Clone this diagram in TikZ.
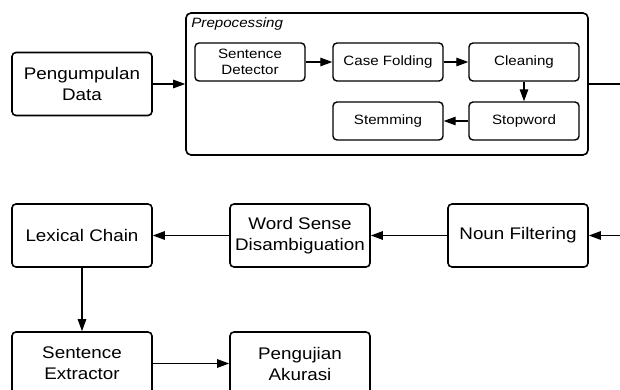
\documentclass[tikz,border=0pt]{standalone}
\usepackage{fontspec}
\setmainfont{Liberation Sans}[FakeStretch=1.12]
\usetikzlibrary{arrows.meta}

\tikzset{
    blok/.style={draw, line width=1.6pt, rounded corners=4pt, align=center,
        minimum width=140pt, minimum height=63pt, inner sep=0pt,
        font=\fontsize{16.8}{21}\selectfont},
    kecil/.style={draw, line width=1.4pt, rounded corners=4pt, align=center,
        minimum width=110pt, minimum height=38pt, inner sep=0pt,
        font=\fontsize{13.5}{16}\selectfont},
    panah/.style={line width=1.3pt, -{Triangle[length=12pt,width=8.5pt]}}
}

\begin{document}
\begin{tikzpicture}[x=1pt,y=-1pt]
                \useasboundingbox (0,0) rectangle (620,390);
                \clip (0,0) rectangle (620,390);
                \node[blok] (pengumpulan) at (82,84) {Pengumpulan\\Data};
                \node[draw, line width=1.6pt, rounded corners=5pt,
                    minimum width=402pt, minimum height=142pt] (prepro) at (387,84) {};
                \node[anchor=north west, inner sep=0pt,
                    font=\fontsize{13.5}{16}\selectfont\itshape]
                    (judul) at ([shift={(6pt,-5pt)}]prepro.north west) {Prepocessing};
                \node[kecil] (detector) at (250,62) {Sentence\\Detector};
                \node[kecil] (casefold) at (388,62) {Case Folding};
                \node[kecil] (cleaning) at (524,62) {Cleaning};
                \node[kecil] (stopword) at (524,121) {Stopword};
                \node[kecil] (stemming) at (388,121) {Stemming};
                \node[blok] (noun) at (518,235.5) {Noun Filtering};
                \node[blok] (wsd) at (300,235.5) {Word Sense\\Disambiguation};
                \node[blok] (lexical) at (82,235.5) {Lexical Chain};
                \node[blok] (extractor) at (82,363.5) {Sentence\\Extractor};
                \node[blok] (akurasi) at (300,363.5) {Pengujian\\Akurasi};
                \coordinate (keluar) at (620,84);
                \coordinate (masuk) at (620,235.5);
                % alur
                \draw[panah] (pengumpulan) -- (prepro);
                \draw[panah] (detector) -- (casefold);
                \draw[panah] (casefold) -- (cleaning);
                \draw[panah] (cleaning) -- (stopword);
                \draw[panah] (stopword) -- (stemming);
                \draw[line width=1.3pt] (prepro.east) -- (keluar);
                \draw[panah] (masuk) -- (noun);
                \draw[panah] (noun) -- (wsd);
                \draw[panah] (wsd) -- (lexical);
                \draw[panah] (lexical) -- (extractor);
                \draw[panah] (extractor) -- (akurasi);
            \end{tikzpicture}
\end{document}
